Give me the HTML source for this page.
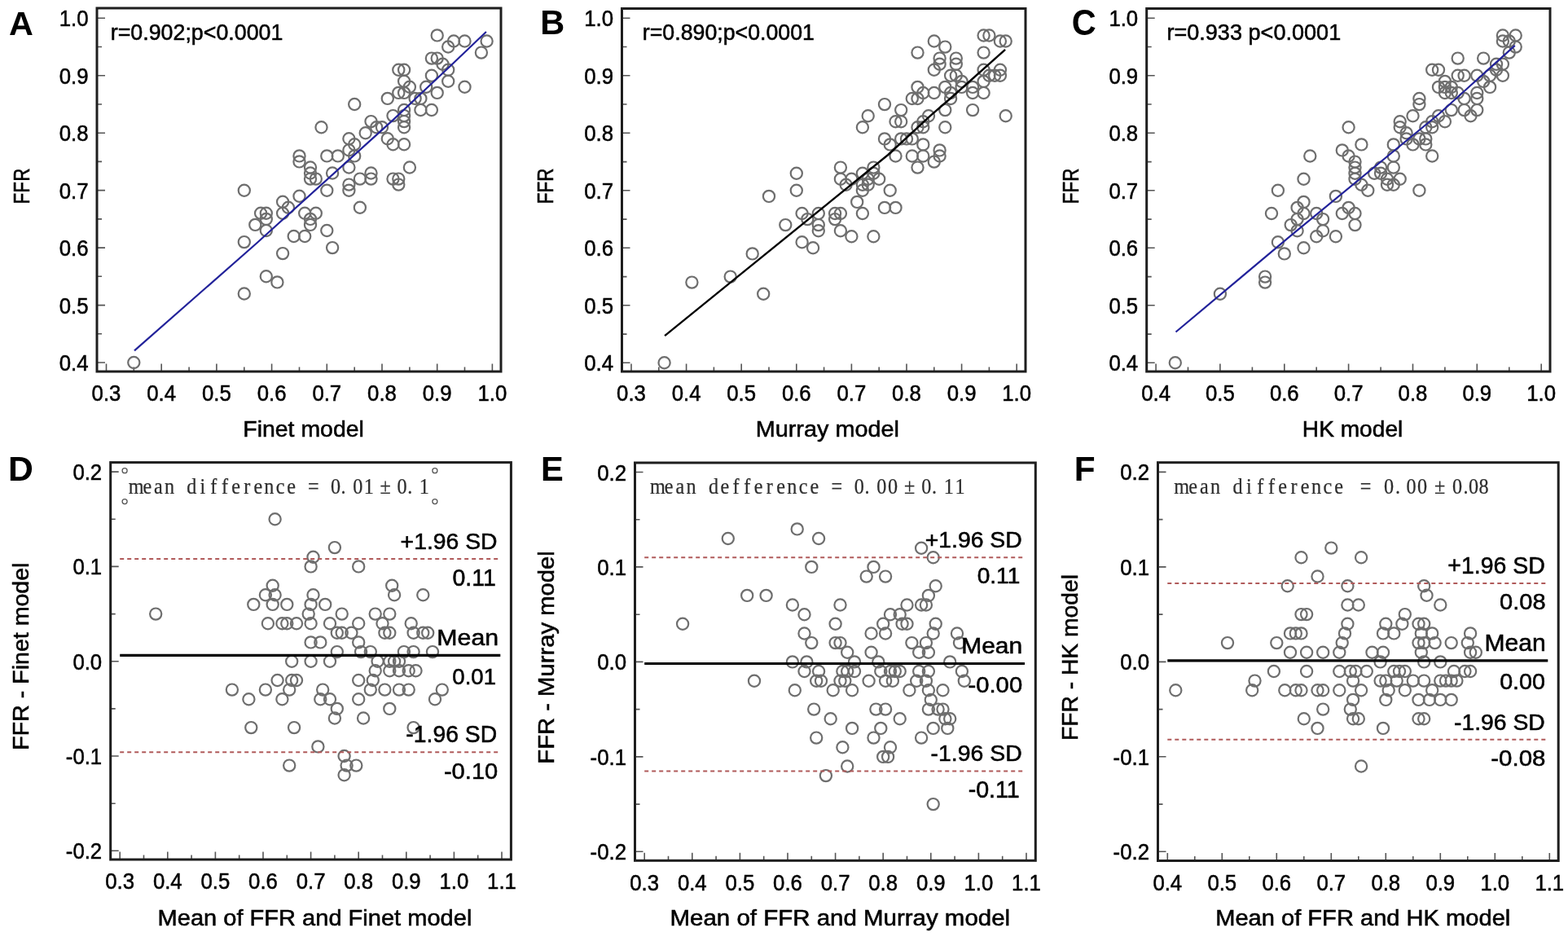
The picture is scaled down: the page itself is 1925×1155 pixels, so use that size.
<!DOCTYPE html>
<html><head><meta charset="utf-8"><title>Figure</title><style>
html,body{margin:0;padding:0;background:#fff;}
svg{display:block;filter:blur(0.45px)}
</style></head><body>
<svg width="1925" height="1155" viewBox="0 0 1925 1155">
<rect width="1925" height="1155" fill="#fff"/>
<path d="M130.5 456.0V446.5M164.3 456.0V450.5M198.2 456.0V446.5M232.1 456.0V450.5M265.9 456.0V446.5M299.8 456.0V450.5M333.6 456.0V446.5M367.5 456.0V450.5M401.3 456.0V446.5M435.2 456.0V450.5M469.0 456.0V446.5M502.9 456.0V450.5M536.7 456.0V446.5M570.5 456.0V450.5M604.4 456.0V446.5M119.0 445.0H129.0M119.0 409.8H125.0M119.0 374.6H129.0M119.0 339.3H125.0M119.0 304.1H129.0M119.0 268.9H125.0M119.0 233.6H129.0M119.0 198.4H125.0M119.0 163.2H129.0M119.0 128.0H125.0M119.0 92.8H129.0M119.0 57.5H125.0M119.0 22.3H129.0M775.0 456.0V446.5M808.8 456.0V450.5M842.6 456.0V446.5M876.4 456.0V450.5M910.2 456.0V446.5M944.0 456.0V450.5M977.8 456.0V446.5M1011.6 456.0V450.5M1045.4 456.0V446.5M1079.2 456.0V450.5M1113.0 456.0V446.5M1146.8 456.0V450.5M1180.6 456.0V446.5M1214.4 456.0V450.5M1248.2 456.0V446.5M763.5 445.3H773.5M763.5 410.1H769.5M763.5 374.8H773.5M763.5 339.6H769.5M763.5 304.3H773.5M763.5 269.1H769.5M763.5 233.8H773.5M763.5 198.6H769.5M763.5 163.3H773.5M763.5 128.0H769.5M763.5 92.8H773.5M763.5 57.5H769.5M763.5 22.3H773.5M1419.1 456.0V446.5M1458.5 456.0V450.5M1497.9 456.0V446.5M1537.4 456.0V450.5M1576.8 456.0V446.5M1616.2 456.0V450.5M1655.6 456.0V446.5M1695.1 456.0V450.5M1734.5 456.0V446.5M1773.9 456.0V450.5M1813.3 456.0V446.5M1852.8 456.0V450.5M1892.2 456.0V446.5M1407.7 445.3H1417.7M1407.7 410.1H1413.7M1407.7 374.8H1417.7M1407.7 339.6H1413.7M1407.7 304.3H1417.7M1407.7 269.1H1413.7M1407.7 233.8H1417.7M1407.7 198.6H1413.7M1407.7 163.3H1417.7M1407.7 128.0H1413.7M1407.7 92.8H1417.7M1407.7 57.5H1413.7M1407.7 22.3H1417.7M147.2 1055.0V1045.5M176.5 1055.0V1049.5M205.8 1055.0V1045.5M235.1 1055.0V1049.5M264.4 1055.0V1045.5M293.7 1055.0V1049.5M323.0 1055.0V1045.5M352.3 1055.0V1049.5M381.6 1055.0V1045.5M410.9 1055.0V1049.5M440.2 1055.0V1045.5M469.5 1055.0V1049.5M498.8 1055.0V1045.5M528.1 1055.0V1049.5M557.4 1055.0V1045.5M586.7 1055.0V1049.5M616.0 1055.0V1045.5M135.7 1044.3H145.7M135.7 986.2H141.7M135.7 928.0H145.7M135.7 869.9H141.7M135.7 811.7H145.7M135.7 753.6H141.7M135.7 695.4H145.7M135.7 637.2H141.7M135.7 579.1H145.7M791.2 1056.3V1046.8M820.5 1056.3V1050.8M849.8 1056.3V1046.8M879.1 1056.3V1050.8M908.4 1056.3V1046.8M937.7 1056.3V1050.8M967.0 1056.3V1046.8M996.3 1056.3V1050.8M1025.6 1056.3V1046.8M1054.9 1056.3V1050.8M1084.2 1056.3V1046.8M1113.5 1056.3V1050.8M1142.8 1056.3V1046.8M1172.1 1056.3V1050.8M1201.4 1056.3V1046.8M1230.7 1056.3V1050.8M1260.0 1056.3V1046.8M779.5 1045.3H789.5M779.5 987.1H785.5M779.5 928.9H789.5M779.5 870.6H785.5M779.5 812.4H789.5M779.5 754.2H785.5M779.5 695.9H789.5M779.5 637.7H785.5M779.5 579.5H789.5M1433.3 1056.5V1047.0M1466.8 1056.5V1051.0M1500.3 1056.5V1047.0M1533.8 1056.5V1051.0M1567.3 1056.5V1047.0M1600.8 1056.5V1051.0M1634.3 1056.5V1047.0M1667.8 1056.5V1051.0M1701.3 1056.5V1047.0M1734.8 1056.5V1051.0M1768.3 1056.5V1047.0M1801.8 1056.5V1051.0M1835.3 1056.5V1047.0M1868.8 1056.5V1051.0M1902.3 1056.5V1047.0M1421.5 1045.3H1431.5M1421.5 987.1H1427.5M1421.5 928.8H1431.5M1421.5 870.6H1427.5M1421.5 812.4H1431.5M1421.5 754.1H1427.5M1421.5 695.9H1431.5M1421.5 637.6H1427.5M1421.5 579.4H1431.5" stroke="#555" stroke-width="1.6" fill="none"/>
<rect x="119" y="10" width="496.0" height="446.0" fill="none" stroke="#1e1e1e" stroke-width="3.0"/>
<rect x="763.5" y="10.5" width="495.5" height="445.5" fill="none" stroke="#1e1e1e" stroke-width="3.0"/>
<rect x="1407.7" y="10.5" width="495.3" height="445.5" fill="none" stroke="#1e1e1e" stroke-width="3.0"/>
<rect x="135.7" y="567.6" width="491.7" height="487.4" fill="none" stroke="#1e1e1e" stroke-width="3.0"/>
<rect x="779.5" y="568" width="491.8" height="488.3" fill="none" stroke="#1e1e1e" stroke-width="3.0"/>
<rect x="1421.5" y="567.7" width="491.7" height="488.8" fill="none" stroke="#1e1e1e" stroke-width="3.0"/>
<g style="font-family:'Liberation Sans',Arial,sans-serif;font-size:28.0px" fill="#000" stroke="#000" stroke-width="0.55"><text x="130.5" y="492.3" text-anchor="middle" textLength="35.81" lengthAdjust="spacingAndGlyphs">0.3</text><text x="198.2" y="492.3" text-anchor="middle" textLength="35.81" lengthAdjust="spacingAndGlyphs">0.4</text><text x="265.9" y="492.3" text-anchor="middle" textLength="35.81" lengthAdjust="spacingAndGlyphs">0.5</text><text x="333.6" y="492.3" text-anchor="middle" textLength="35.81" lengthAdjust="spacingAndGlyphs">0.6</text><text x="401.3" y="492.3" text-anchor="middle" textLength="35.81" lengthAdjust="spacingAndGlyphs">0.7</text><text x="469.0" y="492.3" text-anchor="middle" textLength="35.81" lengthAdjust="spacingAndGlyphs">0.8</text><text x="536.7" y="492.3" text-anchor="middle" textLength="35.81" lengthAdjust="spacingAndGlyphs">0.9</text><text x="604.4" y="492.3" text-anchor="middle" textLength="35.81" lengthAdjust="spacingAndGlyphs">1.0</text><text x="108.5" y="455.0" text-anchor="end" textLength="35.81" lengthAdjust="spacingAndGlyphs">0.4</text><text x="108.5" y="384.6" text-anchor="end" textLength="35.81" lengthAdjust="spacingAndGlyphs">0.5</text><text x="108.5" y="314.1" text-anchor="end" textLength="35.81" lengthAdjust="spacingAndGlyphs">0.6</text><text x="108.5" y="243.6" text-anchor="end" textLength="35.81" lengthAdjust="spacingAndGlyphs">0.7</text><text x="108.5" y="173.2" text-anchor="end" textLength="35.81" lengthAdjust="spacingAndGlyphs">0.8</text><text x="108.5" y="102.8" text-anchor="end" textLength="35.81" lengthAdjust="spacingAndGlyphs">0.9</text><text x="108.5" y="32.3" text-anchor="end" textLength="35.81" lengthAdjust="spacingAndGlyphs">1.0</text><text x="775.0" y="492.3" text-anchor="middle" textLength="35.81" lengthAdjust="spacingAndGlyphs">0.3</text><text x="842.6" y="492.3" text-anchor="middle" textLength="35.81" lengthAdjust="spacingAndGlyphs">0.4</text><text x="910.2" y="492.3" text-anchor="middle" textLength="35.81" lengthAdjust="spacingAndGlyphs">0.5</text><text x="977.8" y="492.3" text-anchor="middle" textLength="35.81" lengthAdjust="spacingAndGlyphs">0.6</text><text x="1045.4" y="492.3" text-anchor="middle" textLength="35.81" lengthAdjust="spacingAndGlyphs">0.7</text><text x="1113.0" y="492.3" text-anchor="middle" textLength="35.81" lengthAdjust="spacingAndGlyphs">0.8</text><text x="1180.6" y="492.3" text-anchor="middle" textLength="35.81" lengthAdjust="spacingAndGlyphs">0.9</text><text x="1248.2" y="492.3" text-anchor="middle" textLength="35.81" lengthAdjust="spacingAndGlyphs">1.0</text><text x="753.0" y="455.3" text-anchor="end" textLength="35.81" lengthAdjust="spacingAndGlyphs">0.4</text><text x="753.0" y="384.8" text-anchor="end" textLength="35.81" lengthAdjust="spacingAndGlyphs">0.5</text><text x="753.0" y="314.3" text-anchor="end" textLength="35.81" lengthAdjust="spacingAndGlyphs">0.6</text><text x="753.0" y="243.8" text-anchor="end" textLength="35.81" lengthAdjust="spacingAndGlyphs">0.7</text><text x="753.0" y="173.3" text-anchor="end" textLength="35.81" lengthAdjust="spacingAndGlyphs">0.8</text><text x="753.0" y="102.8" text-anchor="end" textLength="35.81" lengthAdjust="spacingAndGlyphs">0.9</text><text x="753.0" y="32.3" text-anchor="end" textLength="35.81" lengthAdjust="spacingAndGlyphs">1.0</text><text x="1419.1" y="492.3" text-anchor="middle" textLength="35.81" lengthAdjust="spacingAndGlyphs">0.4</text><text x="1497.9" y="492.3" text-anchor="middle" textLength="35.81" lengthAdjust="spacingAndGlyphs">0.5</text><text x="1576.8" y="492.3" text-anchor="middle" textLength="35.81" lengthAdjust="spacingAndGlyphs">0.6</text><text x="1655.6" y="492.3" text-anchor="middle" textLength="35.81" lengthAdjust="spacingAndGlyphs">0.7</text><text x="1734.5" y="492.3" text-anchor="middle" textLength="35.81" lengthAdjust="spacingAndGlyphs">0.8</text><text x="1813.3" y="492.3" text-anchor="middle" textLength="35.81" lengthAdjust="spacingAndGlyphs">0.9</text><text x="1892.2" y="492.3" text-anchor="middle" textLength="35.81" lengthAdjust="spacingAndGlyphs">1.0</text><text x="1397.2" y="455.3" text-anchor="end" textLength="35.81" lengthAdjust="spacingAndGlyphs">0.4</text><text x="1397.2" y="384.8" text-anchor="end" textLength="35.81" lengthAdjust="spacingAndGlyphs">0.5</text><text x="1397.2" y="314.3" text-anchor="end" textLength="35.81" lengthAdjust="spacingAndGlyphs">0.6</text><text x="1397.2" y="243.8" text-anchor="end" textLength="35.81" lengthAdjust="spacingAndGlyphs">0.7</text><text x="1397.2" y="173.3" text-anchor="end" textLength="35.81" lengthAdjust="spacingAndGlyphs">0.8</text><text x="1397.2" y="102.8" text-anchor="end" textLength="35.81" lengthAdjust="spacingAndGlyphs">0.9</text><text x="1397.2" y="32.3" text-anchor="end" textLength="35.81" lengthAdjust="spacingAndGlyphs">1.0</text><text x="147.2" y="1091.3" text-anchor="middle" textLength="35.81" lengthAdjust="spacingAndGlyphs">0.3</text><text x="205.8" y="1091.3" text-anchor="middle" textLength="35.81" lengthAdjust="spacingAndGlyphs">0.4</text><text x="264.4" y="1091.3" text-anchor="middle" textLength="35.81" lengthAdjust="spacingAndGlyphs">0.5</text><text x="323.0" y="1091.3" text-anchor="middle" textLength="35.81" lengthAdjust="spacingAndGlyphs">0.6</text><text x="381.6" y="1091.3" text-anchor="middle" textLength="35.81" lengthAdjust="spacingAndGlyphs">0.7</text><text x="440.2" y="1091.3" text-anchor="middle" textLength="35.81" lengthAdjust="spacingAndGlyphs">0.8</text><text x="498.8" y="1091.3" text-anchor="middle" textLength="35.81" lengthAdjust="spacingAndGlyphs">0.9</text><text x="557.4" y="1091.3" text-anchor="middle" textLength="35.81" lengthAdjust="spacingAndGlyphs">1.0</text><text x="616.0" y="1091.3" text-anchor="middle" textLength="35.81" lengthAdjust="spacingAndGlyphs">1.1</text><text x="125.2" y="1054.3" text-anchor="end" textLength="44.38" lengthAdjust="spacingAndGlyphs">-0.2</text><text x="125.2" y="938.0" text-anchor="end" textLength="44.38" lengthAdjust="spacingAndGlyphs">-0.1</text><text x="125.2" y="821.7" text-anchor="end" textLength="35.81" lengthAdjust="spacingAndGlyphs">0.0</text><text x="125.2" y="705.4" text-anchor="end" textLength="35.81" lengthAdjust="spacingAndGlyphs">0.1</text><text x="125.2" y="589.1" text-anchor="end" textLength="35.81" lengthAdjust="spacingAndGlyphs">0.2</text><text x="791.2" y="1092.6" text-anchor="middle" textLength="35.81" lengthAdjust="spacingAndGlyphs">0.3</text><text x="849.8" y="1092.6" text-anchor="middle" textLength="35.81" lengthAdjust="spacingAndGlyphs">0.4</text><text x="908.4" y="1092.6" text-anchor="middle" textLength="35.81" lengthAdjust="spacingAndGlyphs">0.5</text><text x="967.0" y="1092.6" text-anchor="middle" textLength="35.81" lengthAdjust="spacingAndGlyphs">0.6</text><text x="1025.6" y="1092.6" text-anchor="middle" textLength="35.81" lengthAdjust="spacingAndGlyphs">0.7</text><text x="1084.2" y="1092.6" text-anchor="middle" textLength="35.81" lengthAdjust="spacingAndGlyphs">0.8</text><text x="1142.8" y="1092.6" text-anchor="middle" textLength="35.81" lengthAdjust="spacingAndGlyphs">0.9</text><text x="1201.4" y="1092.6" text-anchor="middle" textLength="35.81" lengthAdjust="spacingAndGlyphs">1.0</text><text x="1260.0" y="1092.6" text-anchor="middle" textLength="35.81" lengthAdjust="spacingAndGlyphs">1.1</text><text x="769.0" y="1055.3" text-anchor="end" textLength="44.38" lengthAdjust="spacingAndGlyphs">-0.2</text><text x="769.0" y="938.9" text-anchor="end" textLength="44.38" lengthAdjust="spacingAndGlyphs">-0.1</text><text x="769.0" y="822.4" text-anchor="end" textLength="35.81" lengthAdjust="spacingAndGlyphs">0.0</text><text x="769.0" y="705.9" text-anchor="end" textLength="35.81" lengthAdjust="spacingAndGlyphs">0.1</text><text x="769.0" y="589.5" text-anchor="end" textLength="35.81" lengthAdjust="spacingAndGlyphs">0.2</text><text x="1433.3" y="1092.8" text-anchor="middle" textLength="35.81" lengthAdjust="spacingAndGlyphs">0.4</text><text x="1500.3" y="1092.8" text-anchor="middle" textLength="35.81" lengthAdjust="spacingAndGlyphs">0.5</text><text x="1567.3" y="1092.8" text-anchor="middle" textLength="35.81" lengthAdjust="spacingAndGlyphs">0.6</text><text x="1634.3" y="1092.8" text-anchor="middle" textLength="35.81" lengthAdjust="spacingAndGlyphs">0.7</text><text x="1701.3" y="1092.8" text-anchor="middle" textLength="35.81" lengthAdjust="spacingAndGlyphs">0.8</text><text x="1768.3" y="1092.8" text-anchor="middle" textLength="35.81" lengthAdjust="spacingAndGlyphs">0.9</text><text x="1835.3" y="1092.8" text-anchor="middle" textLength="35.81" lengthAdjust="spacingAndGlyphs">1.0</text><text x="1902.3" y="1092.8" text-anchor="middle" textLength="35.81" lengthAdjust="spacingAndGlyphs">1.1</text><text x="1411.0" y="1055.3" text-anchor="end" textLength="44.38" lengthAdjust="spacingAndGlyphs">-0.2</text><text x="1411.0" y="938.8" text-anchor="end" textLength="44.38" lengthAdjust="spacingAndGlyphs">-0.1</text><text x="1411.0" y="822.4" text-anchor="end" textLength="35.81" lengthAdjust="spacingAndGlyphs">0.0</text><text x="1411.0" y="705.9" text-anchor="end" textLength="35.81" lengthAdjust="spacingAndGlyphs">0.1</text><text x="1411.0" y="589.4" text-anchor="end" textLength="35.81" lengthAdjust="spacingAndGlyphs">0.2</text></g>
<g fill="none" stroke="#6e6e6e" stroke-width="2.2"><circle cx="536.7" cy="43.4" r="7.1"/><circle cx="557.0" cy="50.5" r="7.1"/><circle cx="570.5" cy="50.5" r="7.1"/><circle cx="597.6" cy="50.5" r="7.1"/><circle cx="550.2" cy="57.5" r="7.1"/><circle cx="590.9" cy="64.6" r="7.1"/><circle cx="529.9" cy="71.6" r="7.1"/><circle cx="536.7" cy="71.6" r="7.1"/><circle cx="543.5" cy="78.7" r="7.1"/><circle cx="550.2" cy="85.7" r="7.1"/><circle cx="489.3" cy="85.7" r="7.1"/><circle cx="496.1" cy="85.7" r="7.1"/><circle cx="529.9" cy="92.8" r="7.1"/><circle cx="496.1" cy="99.8" r="7.1"/><circle cx="550.2" cy="99.8" r="7.1"/><circle cx="502.9" cy="106.8" r="7.1"/><circle cx="523.2" cy="106.8" r="7.1"/><circle cx="570.5" cy="106.8" r="7.1"/><circle cx="489.3" cy="113.9" r="7.1"/><circle cx="496.1" cy="113.9" r="7.1"/><circle cx="536.7" cy="113.9" r="7.1"/><circle cx="475.8" cy="120.9" r="7.1"/><circle cx="509.6" cy="120.9" r="7.1"/><circle cx="516.4" cy="120.9" r="7.1"/><circle cx="435.2" cy="128.0" r="7.1"/><circle cx="496.1" cy="135.0" r="7.1"/><circle cx="516.4" cy="135.0" r="7.1"/><circle cx="529.9" cy="135.0" r="7.1"/><circle cx="482.5" cy="142.1" r="7.1"/><circle cx="496.1" cy="149.1" r="7.1"/><circle cx="455.5" cy="149.1" r="7.1"/><circle cx="394.5" cy="156.2" r="7.1"/><circle cx="469.0" cy="156.2" r="7.1"/><circle cx="496.1" cy="156.2" r="7.1"/><circle cx="462.2" cy="156.2" r="7.1"/><circle cx="448.7" cy="163.2" r="7.1"/><circle cx="428.4" cy="170.2" r="7.1"/><circle cx="435.2" cy="177.3" r="7.1"/><circle cx="428.4" cy="184.3" r="7.1"/><circle cx="401.3" cy="191.4" r="7.1"/><circle cx="414.8" cy="191.4" r="7.1"/><circle cx="435.2" cy="191.4" r="7.1"/><circle cx="475.8" cy="170.2" r="7.1"/><circle cx="482.5" cy="177.3" r="7.1"/><circle cx="496.1" cy="177.3" r="7.1"/><circle cx="381.0" cy="205.5" r="7.1"/><circle cx="381.0" cy="212.5" r="7.1"/><circle cx="387.8" cy="219.6" r="7.1"/><circle cx="381.0" cy="219.6" r="7.1"/><circle cx="408.1" cy="212.5" r="7.1"/><circle cx="428.4" cy="205.5" r="7.1"/><circle cx="502.9" cy="205.5" r="7.1"/><circle cx="455.5" cy="212.5" r="7.1"/><circle cx="455.5" cy="219.6" r="7.1"/><circle cx="441.9" cy="219.6" r="7.1"/><circle cx="428.4" cy="226.6" r="7.1"/><circle cx="428.4" cy="233.7" r="7.1"/><circle cx="401.3" cy="233.7" r="7.1"/><circle cx="482.5" cy="219.6" r="7.1"/><circle cx="489.3" cy="219.6" r="7.1"/><circle cx="489.3" cy="226.6" r="7.1"/><circle cx="441.9" cy="254.8" r="7.1"/><circle cx="387.8" cy="261.8" r="7.1"/><circle cx="374.2" cy="261.8" r="7.1"/><circle cx="381.0" cy="275.9" r="7.1"/><circle cx="401.3" cy="283.0" r="7.1"/><circle cx="299.8" cy="233.7" r="7.1"/><circle cx="367.5" cy="191.4" r="7.1"/><circle cx="367.5" cy="198.4" r="7.1"/><circle cx="367.5" cy="240.7" r="7.1"/><circle cx="347.1" cy="247.7" r="7.1"/><circle cx="353.9" cy="254.8" r="7.1"/><circle cx="347.1" cy="261.8" r="7.1"/><circle cx="320.1" cy="261.8" r="7.1"/><circle cx="326.8" cy="261.8" r="7.1"/><circle cx="326.8" cy="268.9" r="7.1"/><circle cx="313.3" cy="275.9" r="7.1"/><circle cx="326.8" cy="283.0" r="7.1"/><circle cx="381.0" cy="268.9" r="7.1"/><circle cx="299.8" cy="297.1" r="7.1"/><circle cx="360.7" cy="290.0" r="7.1"/><circle cx="374.2" cy="290.0" r="7.1"/><circle cx="408.1" cy="304.1" r="7.1"/><circle cx="347.1" cy="311.1" r="7.1"/><circle cx="326.8" cy="339.3" r="7.1"/><circle cx="340.4" cy="346.4" r="7.1"/><circle cx="299.8" cy="360.5" r="7.1"/><circle cx="164.3" cy="445.0" r="7.1"/><circle cx="496.1" cy="142.1" r="7.1"/></g>
<g fill="none" stroke="#6e6e6e" stroke-width="2.2"><circle cx="1207.6" cy="43.5" r="7.1"/><circle cx="1214.4" cy="43.5" r="7.1"/><circle cx="1227.9" cy="50.5" r="7.1"/><circle cx="1234.7" cy="50.5" r="7.1"/><circle cx="1146.8" cy="50.5" r="7.1"/><circle cx="1160.3" cy="57.6" r="7.1"/><circle cx="1126.5" cy="64.6" r="7.1"/><circle cx="1207.6" cy="64.6" r="7.1"/><circle cx="1153.6" cy="71.6" r="7.1"/><circle cx="1153.6" cy="78.7" r="7.1"/><circle cx="1173.8" cy="71.6" r="7.1"/><circle cx="1173.8" cy="78.7" r="7.1"/><circle cx="1146.8" cy="85.8" r="7.1"/><circle cx="1207.6" cy="85.8" r="7.1"/><circle cx="1227.9" cy="85.8" r="7.1"/><circle cx="1227.9" cy="92.8" r="7.1"/><circle cx="1167.1" cy="92.8" r="7.1"/><circle cx="1173.8" cy="92.8" r="7.1"/><circle cx="1214.4" cy="92.8" r="7.1"/><circle cx="1221.2" cy="92.8" r="7.1"/><circle cx="1180.6" cy="99.9" r="7.1"/><circle cx="1207.6" cy="99.9" r="7.1"/><circle cx="1126.5" cy="106.9" r="7.1"/><circle cx="1160.3" cy="106.9" r="7.1"/><circle cx="1167.1" cy="114.0" r="7.1"/><circle cx="1180.6" cy="106.9" r="7.1"/><circle cx="1133.3" cy="114.0" r="7.1"/><circle cx="1146.8" cy="114.0" r="7.1"/><circle cx="1194.1" cy="114.0" r="7.1"/><circle cx="1207.6" cy="114.0" r="7.1"/><circle cx="1119.8" cy="121.0" r="7.1"/><circle cx="1126.5" cy="121.0" r="7.1"/><circle cx="1167.1" cy="121.0" r="7.1"/><circle cx="1086.0" cy="128.1" r="7.1"/><circle cx="1106.2" cy="135.1" r="7.1"/><circle cx="1160.3" cy="135.1" r="7.1"/><circle cx="1194.1" cy="135.1" r="7.1"/><circle cx="1234.7" cy="142.2" r="7.1"/><circle cx="1065.7" cy="142.2" r="7.1"/><circle cx="1140.0" cy="142.2" r="7.1"/><circle cx="1099.5" cy="149.2" r="7.1"/><circle cx="1106.2" cy="149.2" r="7.1"/><circle cx="1133.3" cy="149.2" r="7.1"/><circle cx="1058.9" cy="156.2" r="7.1"/><circle cx="1126.5" cy="156.2" r="7.1"/><circle cx="1133.3" cy="156.2" r="7.1"/><circle cx="1160.3" cy="156.2" r="7.1"/><circle cx="1086.0" cy="170.4" r="7.1"/><circle cx="1113.0" cy="170.4" r="7.1"/><circle cx="1092.7" cy="177.4" r="7.1"/><circle cx="1133.3" cy="177.4" r="7.1"/><circle cx="1106.2" cy="170.4" r="7.1"/><circle cx="1099.5" cy="191.5" r="7.1"/><circle cx="1119.8" cy="191.5" r="7.1"/><circle cx="1133.3" cy="191.5" r="7.1"/><circle cx="1126.5" cy="205.6" r="7.1"/><circle cx="1146.8" cy="198.6" r="7.1"/><circle cx="1031.9" cy="205.6" r="7.1"/><circle cx="1072.4" cy="205.6" r="7.1"/><circle cx="977.8" cy="212.7" r="7.1"/><circle cx="977.8" cy="233.8" r="7.1"/><circle cx="944.0" cy="240.9" r="7.1"/><circle cx="1031.9" cy="219.7" r="7.1"/><circle cx="1038.6" cy="226.8" r="7.1"/><circle cx="1045.4" cy="219.7" r="7.1"/><circle cx="1058.9" cy="212.7" r="7.1"/><circle cx="1065.7" cy="219.7" r="7.1"/><circle cx="1065.7" cy="226.8" r="7.1"/><circle cx="1058.9" cy="233.8" r="7.1"/><circle cx="1079.2" cy="219.7" r="7.1"/><circle cx="1092.7" cy="233.8" r="7.1"/><circle cx="1052.2" cy="247.9" r="7.1"/><circle cx="1086.0" cy="254.9" r="7.1"/><circle cx="1099.5" cy="254.9" r="7.1"/><circle cx="1058.9" cy="262.0" r="7.1"/><circle cx="984.6" cy="262.0" r="7.1"/><circle cx="991.3" cy="269.1" r="7.1"/><circle cx="1004.8" cy="262.0" r="7.1"/><circle cx="1025.1" cy="262.0" r="7.1"/><circle cx="1031.9" cy="262.0" r="7.1"/><circle cx="1025.1" cy="269.1" r="7.1"/><circle cx="964.3" cy="276.1" r="7.1"/><circle cx="1004.8" cy="276.1" r="7.1"/><circle cx="1004.8" cy="283.2" r="7.1"/><circle cx="1031.9" cy="283.2" r="7.1"/><circle cx="849.4" cy="346.6" r="7.1"/><circle cx="896.7" cy="339.6" r="7.1"/><circle cx="923.7" cy="311.4" r="7.1"/><circle cx="937.2" cy="360.7" r="7.1"/><circle cx="984.6" cy="297.2" r="7.1"/><circle cx="998.1" cy="304.3" r="7.1"/><circle cx="815.6" cy="445.3" r="7.1"/><circle cx="1153.6" cy="184.4" r="7.1"/><circle cx="1153.6" cy="191.5" r="7.1"/><circle cx="1045.4" cy="290.2" r="7.1"/><circle cx="1072.4" cy="290.2" r="7.1"/><circle cx="1058.9" cy="226.8" r="7.1"/><circle cx="1072.4" cy="212.7" r="7.1"/><circle cx="1119.8" cy="170.4" r="7.1"/><circle cx="1194.1" cy="106.9" r="7.1"/></g>
<g fill="none" stroke="#6e6e6e" stroke-width="2.2"><circle cx="1844.9" cy="43.5" r="7.1"/><circle cx="1860.7" cy="43.5" r="7.1"/><circle cx="1844.9" cy="50.5" r="7.1"/><circle cx="1852.8" cy="50.5" r="7.1"/><circle cx="1860.7" cy="57.6" r="7.1"/><circle cx="1852.8" cy="64.6" r="7.1"/><circle cx="1789.7" cy="71.6" r="7.1"/><circle cx="1821.2" cy="71.6" r="7.1"/><circle cx="1758.2" cy="85.8" r="7.1"/><circle cx="1766.0" cy="85.8" r="7.1"/><circle cx="1837.0" cy="78.7" r="7.1"/><circle cx="1844.9" cy="78.7" r="7.1"/><circle cx="1789.7" cy="92.8" r="7.1"/><circle cx="1797.6" cy="92.8" r="7.1"/><circle cx="1813.3" cy="92.8" r="7.1"/><circle cx="1829.1" cy="92.8" r="7.1"/><circle cx="1844.9" cy="92.8" r="7.1"/><circle cx="1773.9" cy="99.9" r="7.1"/><circle cx="1766.0" cy="106.9" r="7.1"/><circle cx="1773.9" cy="114.0" r="7.1"/><circle cx="1781.8" cy="106.9" r="7.1"/><circle cx="1781.8" cy="114.0" r="7.1"/><circle cx="1789.7" cy="114.0" r="7.1"/><circle cx="1813.3" cy="114.0" r="7.1"/><circle cx="1813.3" cy="121.0" r="7.1"/><circle cx="1829.1" cy="106.9" r="7.1"/><circle cx="1797.6" cy="121.0" r="7.1"/><circle cx="1742.4" cy="121.0" r="7.1"/><circle cx="1742.4" cy="128.1" r="7.1"/><circle cx="1734.5" cy="142.2" r="7.1"/><circle cx="1781.8" cy="135.1" r="7.1"/><circle cx="1797.6" cy="135.1" r="7.1"/><circle cx="1805.5" cy="142.2" r="7.1"/><circle cx="1813.3" cy="135.1" r="7.1"/><circle cx="1766.0" cy="142.2" r="7.1"/><circle cx="1773.9" cy="149.2" r="7.1"/><circle cx="1758.2" cy="156.2" r="7.1"/><circle cx="1718.7" cy="149.2" r="7.1"/><circle cx="1718.7" cy="156.2" r="7.1"/><circle cx="1726.6" cy="163.3" r="7.1"/><circle cx="1726.6" cy="170.4" r="7.1"/><circle cx="1750.3" cy="156.2" r="7.1"/><circle cx="1750.3" cy="170.4" r="7.1"/><circle cx="1750.3" cy="177.4" r="7.1"/><circle cx="1655.6" cy="156.2" r="7.1"/><circle cx="1671.4" cy="177.4" r="7.1"/><circle cx="1710.8" cy="177.4" r="7.1"/><circle cx="1608.3" cy="191.5" r="7.1"/><circle cx="1647.8" cy="184.4" r="7.1"/><circle cx="1655.6" cy="191.5" r="7.1"/><circle cx="1663.5" cy="198.6" r="7.1"/><circle cx="1663.5" cy="205.6" r="7.1"/><circle cx="1663.5" cy="212.7" r="7.1"/><circle cx="1663.5" cy="219.7" r="7.1"/><circle cx="1671.4" cy="226.8" r="7.1"/><circle cx="1679.3" cy="233.8" r="7.1"/><circle cx="1600.5" cy="219.7" r="7.1"/><circle cx="1568.9" cy="233.8" r="7.1"/><circle cx="1639.9" cy="240.9" r="7.1"/><circle cx="1710.8" cy="191.5" r="7.1"/><circle cx="1695.1" cy="205.6" r="7.1"/><circle cx="1710.8" cy="205.6" r="7.1"/><circle cx="1687.2" cy="212.7" r="7.1"/><circle cx="1695.1" cy="212.7" r="7.1"/><circle cx="1703.0" cy="219.7" r="7.1"/><circle cx="1703.0" cy="226.8" r="7.1"/><circle cx="1710.8" cy="226.8" r="7.1"/><circle cx="1718.7" cy="219.7" r="7.1"/><circle cx="1742.4" cy="233.8" r="7.1"/><circle cx="1734.5" cy="177.4" r="7.1"/><circle cx="1758.2" cy="191.5" r="7.1"/><circle cx="1561.0" cy="262.0" r="7.1"/><circle cx="1592.6" cy="254.9" r="7.1"/><circle cx="1600.5" cy="247.9" r="7.1"/><circle cx="1600.5" cy="262.0" r="7.1"/><circle cx="1616.2" cy="262.0" r="7.1"/><circle cx="1624.1" cy="269.1" r="7.1"/><circle cx="1624.1" cy="283.2" r="7.1"/><circle cx="1592.6" cy="269.1" r="7.1"/><circle cx="1584.7" cy="276.1" r="7.1"/><circle cx="1592.6" cy="283.2" r="7.1"/><circle cx="1647.8" cy="262.0" r="7.1"/><circle cx="1655.6" cy="254.9" r="7.1"/><circle cx="1663.5" cy="262.0" r="7.1"/><circle cx="1663.5" cy="276.1" r="7.1"/><circle cx="1616.2" cy="290.2" r="7.1"/><circle cx="1639.9" cy="290.2" r="7.1"/><circle cx="1568.9" cy="297.2" r="7.1"/><circle cx="1576.8" cy="311.4" r="7.1"/><circle cx="1600.5" cy="304.3" r="7.1"/><circle cx="1553.1" cy="339.6" r="7.1"/><circle cx="1553.1" cy="346.6" r="7.1"/><circle cx="1497.9" cy="360.7" r="7.1"/><circle cx="1442.8" cy="445.3" r="7.1"/><circle cx="1773.9" cy="106.9" r="7.1"/><circle cx="1758.2" cy="149.2" r="7.1"/><circle cx="1742.4" cy="170.4" r="7.1"/><circle cx="1821.2" cy="99.9" r="7.1"/><circle cx="1837.0" cy="85.8" r="7.1"/></g>
<g fill="none" stroke="#6e6e6e" stroke-width="2.2"><circle cx="337.6" cy="637.2" r="7.1"/><circle cx="191.2" cy="753.6" r="7.1"/><circle cx="410.9" cy="672.1" r="7.1"/><circle cx="384.5" cy="683.8" r="7.1"/><circle cx="381.6" cy="695.4" r="7.1"/><circle cx="334.7" cy="718.7" r="7.1"/><circle cx="325.9" cy="730.3" r="7.1"/><circle cx="337.6" cy="730.3" r="7.1"/><circle cx="311.3" cy="741.9" r="7.1"/><circle cx="334.7" cy="741.9" r="7.1"/><circle cx="352.3" cy="741.9" r="7.1"/><circle cx="384.5" cy="730.3" r="7.1"/><circle cx="381.6" cy="741.9" r="7.1"/><circle cx="399.2" cy="741.9" r="7.1"/><circle cx="378.7" cy="753.6" r="7.1"/><circle cx="328.9" cy="765.2" r="7.1"/><circle cx="346.4" cy="765.2" r="7.1"/><circle cx="352.3" cy="765.2" r="7.1"/><circle cx="364.0" cy="765.2" r="7.1"/><circle cx="381.6" cy="765.2" r="7.1"/><circle cx="405.0" cy="765.2" r="7.1"/><circle cx="440.2" cy="695.4" r="7.1"/><circle cx="481.2" cy="718.7" r="7.1"/><circle cx="484.1" cy="730.3" r="7.1"/><circle cx="519.3" cy="730.3" r="7.1"/><circle cx="419.7" cy="753.6" r="7.1"/><circle cx="460.7" cy="753.6" r="7.1"/><circle cx="478.3" cy="753.6" r="7.1"/><circle cx="440.2" cy="765.2" r="7.1"/><circle cx="469.5" cy="765.2" r="7.1"/><circle cx="504.7" cy="765.2" r="7.1"/><circle cx="413.8" cy="776.8" r="7.1"/><circle cx="419.7" cy="776.8" r="7.1"/><circle cx="431.4" cy="776.8" r="7.1"/><circle cx="381.6" cy="788.4" r="7.1"/><circle cx="393.3" cy="788.4" r="7.1"/><circle cx="440.2" cy="788.4" r="7.1"/><circle cx="413.8" cy="800.1" r="7.1"/><circle cx="443.1" cy="800.1" r="7.1"/><circle cx="454.8" cy="800.1" r="7.1"/><circle cx="358.2" cy="811.7" r="7.1"/><circle cx="381.6" cy="811.7" r="7.1"/><circle cx="405.0" cy="811.7" r="7.1"/><circle cx="463.6" cy="811.7" r="7.1"/><circle cx="460.7" cy="823.3" r="7.1"/><circle cx="340.6" cy="835.0" r="7.1"/><circle cx="358.2" cy="835.0" r="7.1"/><circle cx="364.0" cy="835.0" r="7.1"/><circle cx="440.2" cy="835.0" r="7.1"/><circle cx="457.8" cy="835.0" r="7.1"/><circle cx="284.9" cy="846.6" r="7.1"/><circle cx="325.9" cy="846.6" r="7.1"/><circle cx="355.2" cy="846.6" r="7.1"/><circle cx="396.2" cy="846.6" r="7.1"/><circle cx="454.8" cy="846.6" r="7.1"/><circle cx="305.4" cy="858.2" r="7.1"/><circle cx="346.4" cy="858.2" r="7.1"/><circle cx="393.3" cy="858.2" r="7.1"/><circle cx="405.0" cy="858.2" r="7.1"/><circle cx="440.2" cy="858.2" r="7.1"/><circle cx="413.8" cy="869.9" r="7.1"/><circle cx="410.9" cy="881.5" r="7.1"/><circle cx="446.1" cy="881.5" r="7.1"/><circle cx="308.3" cy="893.1" r="7.1"/><circle cx="361.1" cy="893.1" r="7.1"/><circle cx="472.4" cy="776.8" r="7.1"/><circle cx="478.3" cy="776.8" r="7.1"/><circle cx="507.6" cy="776.8" r="7.1"/><circle cx="519.3" cy="776.8" r="7.1"/><circle cx="525.2" cy="776.8" r="7.1"/><circle cx="495.9" cy="800.1" r="7.1"/><circle cx="507.6" cy="800.1" r="7.1"/><circle cx="531.0" cy="800.1" r="7.1"/><circle cx="478.3" cy="811.7" r="7.1"/><circle cx="484.1" cy="811.7" r="7.1"/><circle cx="490.0" cy="811.7" r="7.1"/><circle cx="478.3" cy="823.3" r="7.1"/><circle cx="490.0" cy="823.3" r="7.1"/><circle cx="501.7" cy="823.3" r="7.1"/><circle cx="510.5" cy="823.3" r="7.1"/><circle cx="472.4" cy="846.6" r="7.1"/><circle cx="490.0" cy="846.6" r="7.1"/><circle cx="501.7" cy="846.6" r="7.1"/><circle cx="542.8" cy="846.6" r="7.1"/><circle cx="534.0" cy="858.2" r="7.1"/><circle cx="478.3" cy="869.9" r="7.1"/><circle cx="507.6" cy="893.1" r="7.1"/><circle cx="390.4" cy="916.4" r="7.1"/><circle cx="422.6" cy="928.0" r="7.1"/><circle cx="355.2" cy="939.6" r="7.1"/><circle cx="425.6" cy="939.6" r="7.1"/><circle cx="437.3" cy="939.6" r="7.1"/><circle cx="422.6" cy="951.3" r="7.1"/></g>
<g fill="none" stroke="#6e6e6e" stroke-width="2.2"><circle cx="893.8" cy="661.0" r="7.1"/><circle cx="978.7" cy="649.4" r="7.1"/><circle cx="1005.1" cy="661.0" r="7.1"/><circle cx="996.3" cy="695.9" r="7.1"/><circle cx="1063.7" cy="707.6" r="7.1"/><circle cx="917.2" cy="730.9" r="7.1"/><circle cx="940.6" cy="730.9" r="7.1"/><circle cx="972.9" cy="742.5" r="7.1"/><circle cx="987.5" cy="754.2" r="7.1"/><circle cx="1031.5" cy="742.5" r="7.1"/><circle cx="838.1" cy="765.8" r="7.1"/><circle cx="1025.6" cy="765.8" r="7.1"/><circle cx="1131.1" cy="672.7" r="7.1"/><circle cx="1145.7" cy="684.3" r="7.1"/><circle cx="1072.5" cy="695.9" r="7.1"/><circle cx="1087.1" cy="707.6" r="7.1"/><circle cx="1148.7" cy="719.2" r="7.1"/><circle cx="1139.9" cy="730.9" r="7.1"/><circle cx="1113.5" cy="742.5" r="7.1"/><circle cx="1131.1" cy="742.5" r="7.1"/><circle cx="1136.9" cy="742.5" r="7.1"/><circle cx="1093.0" cy="754.2" r="7.1"/><circle cx="1104.7" cy="754.2" r="7.1"/><circle cx="1084.2" cy="765.8" r="7.1"/><circle cx="1107.6" cy="765.8" r="7.1"/><circle cx="1113.5" cy="765.8" r="7.1"/><circle cx="1148.7" cy="765.8" r="7.1"/><circle cx="1069.6" cy="777.5" r="7.1"/><circle cx="1087.1" cy="777.5" r="7.1"/><circle cx="1145.7" cy="777.5" r="7.1"/><circle cx="1175.0" cy="777.5" r="7.1"/><circle cx="987.5" cy="777.5" r="7.1"/><circle cx="996.3" cy="789.1" r="7.1"/><circle cx="1025.6" cy="789.1" r="7.1"/><circle cx="1031.5" cy="789.1" r="7.1"/><circle cx="1040.2" cy="800.8" r="7.1"/><circle cx="1069.6" cy="800.8" r="7.1"/><circle cx="972.9" cy="812.4" r="7.1"/><circle cx="990.4" cy="812.4" r="7.1"/><circle cx="1049.0" cy="812.4" r="7.1"/><circle cx="1078.3" cy="812.4" r="7.1"/><circle cx="987.5" cy="824.0" r="7.1"/><circle cx="1005.1" cy="824.0" r="7.1"/><circle cx="1034.4" cy="824.0" r="7.1"/><circle cx="1040.2" cy="824.0" r="7.1"/><circle cx="1049.0" cy="824.0" r="7.1"/><circle cx="1081.3" cy="824.0" r="7.1"/><circle cx="1093.0" cy="824.0" r="7.1"/><circle cx="1104.7" cy="824.0" r="7.1"/><circle cx="926.0" cy="835.7" r="7.1"/><circle cx="1002.2" cy="835.7" r="7.1"/><circle cx="1008.0" cy="835.7" r="7.1"/><circle cx="1031.5" cy="835.7" r="7.1"/><circle cx="1037.3" cy="835.7" r="7.1"/><circle cx="1066.6" cy="835.7" r="7.1"/><circle cx="1087.1" cy="835.7" r="7.1"/><circle cx="1095.9" cy="835.7" r="7.1"/><circle cx="975.8" cy="847.3" r="7.1"/><circle cx="1022.7" cy="847.3" r="7.1"/><circle cx="1046.1" cy="847.3" r="7.1"/><circle cx="999.2" cy="870.6" r="7.1"/><circle cx="1075.4" cy="870.6" r="7.1"/><circle cx="1087.1" cy="870.6" r="7.1"/><circle cx="1019.7" cy="882.3" r="7.1"/><circle cx="1104.7" cy="882.3" r="7.1"/><circle cx="1046.1" cy="893.9" r="7.1"/><circle cx="1081.3" cy="893.9" r="7.1"/><circle cx="1002.2" cy="905.6" r="7.1"/><circle cx="1072.5" cy="905.6" r="7.1"/><circle cx="1178.0" cy="789.1" r="7.1"/><circle cx="1119.4" cy="789.1" r="7.1"/><circle cx="1136.9" cy="789.1" r="7.1"/><circle cx="1128.2" cy="800.8" r="7.1"/><circle cx="1139.9" cy="800.8" r="7.1"/><circle cx="1166.2" cy="812.4" r="7.1"/><circle cx="1128.2" cy="824.0" r="7.1"/><circle cx="1139.9" cy="824.0" r="7.1"/><circle cx="1180.9" cy="824.0" r="7.1"/><circle cx="1125.2" cy="835.7" r="7.1"/><circle cx="1136.9" cy="835.7" r="7.1"/><circle cx="1183.8" cy="835.7" r="7.1"/><circle cx="1116.4" cy="847.3" r="7.1"/><circle cx="1139.9" cy="847.3" r="7.1"/><circle cx="1157.5" cy="847.3" r="7.1"/><circle cx="1142.8" cy="859.0" r="7.1"/><circle cx="1139.9" cy="870.6" r="7.1"/><circle cx="1151.6" cy="870.6" r="7.1"/><circle cx="1157.5" cy="870.6" r="7.1"/><circle cx="1160.4" cy="882.3" r="7.1"/><circle cx="1166.2" cy="882.3" r="7.1"/><circle cx="1145.7" cy="893.9" r="7.1"/><circle cx="1163.3" cy="893.9" r="7.1"/><circle cx="1131.1" cy="905.6" r="7.1"/><circle cx="1034.4" cy="917.2" r="7.1"/><circle cx="1093.0" cy="917.2" r="7.1"/><circle cx="1084.2" cy="928.9" r="7.1"/><circle cx="1090.1" cy="928.9" r="7.1"/><circle cx="1040.2" cy="940.5" r="7.1"/><circle cx="1013.9" cy="952.1" r="7.1"/><circle cx="1145.7" cy="987.1" r="7.1"/><circle cx="1098.8" cy="824.0" r="7.1"/></g>
<g fill="none" stroke="#6e6e6e" stroke-width="2.2"><circle cx="1634.3" cy="672.6" r="7.1"/><circle cx="1597.5" cy="684.2" r="7.1"/><circle cx="1671.1" cy="684.2" r="7.1"/><circle cx="1617.5" cy="707.5" r="7.1"/><circle cx="1580.7" cy="719.2" r="7.1"/><circle cx="1654.4" cy="719.2" r="7.1"/><circle cx="1654.4" cy="742.5" r="7.1"/><circle cx="1667.8" cy="742.5" r="7.1"/><circle cx="1597.5" cy="754.1" r="7.1"/><circle cx="1604.1" cy="754.1" r="7.1"/><circle cx="1654.4" cy="765.8" r="7.1"/><circle cx="1584.0" cy="777.4" r="7.1"/><circle cx="1590.8" cy="777.4" r="7.1"/><circle cx="1597.5" cy="777.4" r="7.1"/><circle cx="1651.0" cy="777.4" r="7.1"/><circle cx="1507.0" cy="789.1" r="7.1"/><circle cx="1567.3" cy="789.1" r="7.1"/><circle cx="1647.7" cy="789.1" r="7.1"/><circle cx="1584.0" cy="800.7" r="7.1"/><circle cx="1604.1" cy="800.7" r="7.1"/><circle cx="1624.2" cy="800.7" r="7.1"/><circle cx="1644.3" cy="800.7" r="7.1"/><circle cx="1748.2" cy="719.2" r="7.1"/><circle cx="1751.5" cy="730.8" r="7.1"/><circle cx="1768.3" cy="742.5" r="7.1"/><circle cx="1724.8" cy="754.1" r="7.1"/><circle cx="1701.3" cy="765.8" r="7.1"/><circle cx="1721.4" cy="765.8" r="7.1"/><circle cx="1741.5" cy="765.8" r="7.1"/><circle cx="1748.2" cy="765.8" r="7.1"/><circle cx="1698.0" cy="777.4" r="7.1"/><circle cx="1711.3" cy="777.4" r="7.1"/><circle cx="1744.8" cy="777.4" r="7.1"/><circle cx="1758.2" cy="777.4" r="7.1"/><circle cx="1805.1" cy="777.4" r="7.1"/><circle cx="1741.5" cy="789.1" r="7.1"/><circle cx="1748.2" cy="789.1" r="7.1"/><circle cx="1761.6" cy="789.1" r="7.1"/><circle cx="1781.7" cy="789.1" r="7.1"/><circle cx="1801.8" cy="789.1" r="7.1"/><circle cx="1684.5" cy="800.7" r="7.1"/><circle cx="1698.0" cy="800.7" r="7.1"/><circle cx="1744.8" cy="800.7" r="7.1"/><circle cx="1805.1" cy="800.7" r="7.1"/><circle cx="1811.8" cy="800.7" r="7.1"/><circle cx="1563.9" cy="824.0" r="7.1"/><circle cx="1604.1" cy="824.0" r="7.1"/><circle cx="1644.3" cy="824.0" r="7.1"/><circle cx="1657.8" cy="824.0" r="7.1"/><circle cx="1664.4" cy="824.0" r="7.1"/><circle cx="1677.8" cy="824.0" r="7.1"/><circle cx="1540.5" cy="835.6" r="7.1"/><circle cx="1661.1" cy="835.6" r="7.1"/><circle cx="1443.3" cy="847.3" r="7.1"/><circle cx="1537.2" cy="847.3" r="7.1"/><circle cx="1577.3" cy="847.3" r="7.1"/><circle cx="1590.8" cy="847.3" r="7.1"/><circle cx="1597.5" cy="847.3" r="7.1"/><circle cx="1617.5" cy="847.3" r="7.1"/><circle cx="1624.2" cy="847.3" r="7.1"/><circle cx="1644.3" cy="847.3" r="7.1"/><circle cx="1671.1" cy="847.3" r="7.1"/><circle cx="1661.1" cy="858.9" r="7.1"/><circle cx="1624.2" cy="870.6" r="7.1"/><circle cx="1657.8" cy="870.6" r="7.1"/><circle cx="1600.8" cy="882.2" r="7.1"/><circle cx="1661.1" cy="882.2" r="7.1"/><circle cx="1667.8" cy="882.2" r="7.1"/><circle cx="1617.5" cy="893.9" r="7.1"/><circle cx="1694.6" cy="812.4" r="7.1"/><circle cx="1748.2" cy="812.4" r="7.1"/><circle cx="1768.3" cy="812.4" r="7.1"/><circle cx="1711.3" cy="824.0" r="7.1"/><circle cx="1718.0" cy="824.0" r="7.1"/><circle cx="1724.8" cy="824.0" r="7.1"/><circle cx="1785.0" cy="824.0" r="7.1"/><circle cx="1798.4" cy="824.0" r="7.1"/><circle cx="1805.1" cy="824.0" r="7.1"/><circle cx="1694.6" cy="835.6" r="7.1"/><circle cx="1701.3" cy="835.6" r="7.1"/><circle cx="1714.7" cy="835.6" r="7.1"/><circle cx="1734.8" cy="835.6" r="7.1"/><circle cx="1748.2" cy="835.6" r="7.1"/><circle cx="1768.3" cy="835.6" r="7.1"/><circle cx="1775.0" cy="835.6" r="7.1"/><circle cx="1781.7" cy="835.6" r="7.1"/><circle cx="1788.4" cy="835.6" r="7.1"/><circle cx="1704.7" cy="847.3" r="7.1"/><circle cx="1724.8" cy="847.3" r="7.1"/><circle cx="1758.2" cy="847.3" r="7.1"/><circle cx="1701.3" cy="858.9" r="7.1"/><circle cx="1741.5" cy="858.9" r="7.1"/><circle cx="1754.9" cy="858.9" r="7.1"/><circle cx="1768.3" cy="858.9" r="7.1"/><circle cx="1781.7" cy="858.9" r="7.1"/><circle cx="1741.5" cy="882.2" r="7.1"/><circle cx="1748.2" cy="882.2" r="7.1"/><circle cx="1698.0" cy="893.9" r="7.1"/><circle cx="1671.1" cy="940.5" r="7.1"/></g>
<polyline points="165,430.3 313.4,300 482.1,147.6 553.7,80.2 596.9,39" fill="none" stroke="#22229a" stroke-width="2.2"/>
<polyline points="816.1,412.1 905.8,339.4 1090.3,190 1142.7,141.6 1168.3,119.5 1234.1,60.8" fill="none" stroke="#000" stroke-width="2.4" stroke-linejoin="round"/>
<polyline points="1443.5,407.5 1584.5,289.4 1766.4,140 1859.8,55.9" fill="none" stroke="#22229a" stroke-width="2.2"/>
<line x1="147.2" y1="685.9" x2="614.3" y2="685.9" stroke="#b05a5a" stroke-width="2" stroke-dasharray="5 4"/>
<line x1="147.2" y1="923.2" x2="614.3" y2="923.2" stroke="#b05a5a" stroke-width="2" stroke-dasharray="5 4"/>
<line x1="791.2" y1="684.3" x2="1258.0" y2="684.3" stroke="#b05a5a" stroke-width="2" stroke-dasharray="5 4"/>
<line x1="791.2" y1="946.6" x2="1258.0" y2="946.6" stroke="#b05a5a" stroke-width="2" stroke-dasharray="5 4"/>
<line x1="1433.3" y1="716.1" x2="1900.3" y2="716.1" stroke="#b05a5a" stroke-width="2" stroke-dasharray="5 4"/>
<line x1="1433.3" y1="907.8" x2="1900.3" y2="907.8" stroke="#b05a5a" stroke-width="2" stroke-dasharray="5 4"/>
<line x1="147.2" y1="804.4" x2="614.3" y2="804.4" stroke="#000" stroke-width="3.2"/>
<line x1="791.2" y1="814.5" x2="1258.0" y2="814.5" stroke="#000" stroke-width="3.2"/>
<line x1="1433.3" y1="810.9" x2="1900.3" y2="810.9" stroke="#000" stroke-width="3.2"/>
<g fill="#fff" stroke="#555" stroke-width="1.3"><circle cx="153.1" cy="577.7" r="3"/><circle cx="153.1" cy="615.6" r="3"/><circle cx="533.9" cy="577.7" r="3"/><circle cx="533.9" cy="615.6" r="3"/></g>
<text x="10.96" y="42.80" style="font-family:'Liberation Sans', Arial, sans-serif;font-weight:bold;font-size:40.71px" fill="#000" textLength="29.87" lengthAdjust="spacingAndGlyphs">A</text>
<text x="663.30" y="42.00" style="font-family:'Liberation Sans', Arial, sans-serif;font-weight:bold;font-size:42.75px" fill="#000" textLength="29.95" lengthAdjust="spacingAndGlyphs">B</text>
<text x="1315.74" y="42.80" style="font-family:'Liberation Sans', Arial, sans-serif;font-weight:bold;font-size:44.57px" fill="#000" textLength="30.00" lengthAdjust="spacingAndGlyphs">C</text>
<text x="9.90" y="589.90" style="font-family:'Liberation Sans', Arial, sans-serif;font-weight:bold;font-size:42.75px" fill="#000" textLength="30.90" lengthAdjust="spacingAndGlyphs">D</text>
<text x="664.09" y="589.90" style="font-family:'Liberation Sans', Arial, sans-serif;font-weight:bold;font-size:42.75px" fill="#000" textLength="27.75" lengthAdjust="spacingAndGlyphs">E</text>
<text x="1318.63" y="589.90" style="font-family:'Liberation Sans', Arial, sans-serif;font-weight:bold;font-size:42.75px" fill="#000" textLength="25.90" lengthAdjust="spacingAndGlyphs">F</text>
<text x="135.72" y="49.00" style="font-family:'Liberation Sans', Arial, sans-serif;font-weight:normal;font-size:27.86px" fill="#000" stroke="#000" stroke-width="0.55" textLength="211.71" lengthAdjust="spacingAndGlyphs">r=0.902;p&lt;0.0001</text>
<text x="788.83" y="49.00" style="font-family:'Liberation Sans', Arial, sans-serif;font-weight:normal;font-size:27.86px" fill="#000" stroke="#000" stroke-width="0.55" textLength="211.10" lengthAdjust="spacingAndGlyphs">r=0.890;p&lt;0.0001</text>
<text x="1432.40" y="49.00" style="font-family:'Liberation Sans', Arial, sans-serif;font-weight:normal;font-size:27.86px" fill="#000" stroke="#000" stroke-width="0.55" textLength="213.84" lengthAdjust="spacingAndGlyphs">r=0.933 p&lt;0.0001</text>
<text x="298.33" y="535.70" style="font-family:'Liberation Sans', Arial, sans-serif;font-weight:normal;font-size:28.36px" fill="#000" stroke="#000" stroke-width="0.55" textLength="148.51" lengthAdjust="spacingAndGlyphs">Finet model</text>
<text x="927.69" y="535.50" style="font-family:'Liberation Sans', Arial, sans-serif;font-weight:normal;font-size:28.08px" fill="#000" stroke="#000" stroke-width="0.55" textLength="176.32" lengthAdjust="spacingAndGlyphs">Murray model</text>
<text x="1598.85" y="535.70" style="font-family:'Liberation Sans', Arial, sans-serif;font-weight:normal;font-size:28.36px" fill="#000" stroke="#000" stroke-width="0.55" textLength="123.43" lengthAdjust="spacingAndGlyphs">HK model</text>
<text x="193.58" y="1136.20" style="font-family:'Liberation Sans', Arial, sans-serif;font-weight:normal;font-size:27.67px" fill="#000" stroke="#000" stroke-width="0.55" textLength="385.77" lengthAdjust="spacingAndGlyphs">Mean of FFR and Finet model</text>
<text x="822.54" y="1136.20" style="font-family:'Liberation Sans', Arial, sans-serif;font-weight:normal;font-size:27.67px" fill="#000" stroke="#000" stroke-width="0.55" textLength="417.58" lengthAdjust="spacingAndGlyphs">Mean of FFR and Murray model</text>
<text x="1492.17" y="1136.20" style="font-family:'Liberation Sans', Arial, sans-serif;font-weight:normal;font-size:27.67px" fill="#000" stroke="#000" stroke-width="0.55" textLength="362.16" lengthAdjust="spacingAndGlyphs">Mean of FFR and HK model</text>
<text transform="translate(35.90 250.40) rotate(-90)" style="font-family:'Liberation Sans', Arial, sans-serif;font-weight:normal;font-size:28.00px" fill="#000" stroke="#000" stroke-width="0.55" textLength="43.82" lengthAdjust="spacingAndGlyphs">FFR</text>
<text transform="translate(679.40 250.20) rotate(-90)" style="font-family:'Liberation Sans', Arial, sans-serif;font-weight:normal;font-size:28.43px" fill="#000" stroke="#000" stroke-width="0.55" textLength="43.71" lengthAdjust="spacingAndGlyphs">FFR</text>
<text transform="translate(1323.90 250.20) rotate(-90)" style="font-family:'Liberation Sans', Arial, sans-serif;font-weight:normal;font-size:28.43px" fill="#000" stroke="#000" stroke-width="0.55" textLength="43.71" lengthAdjust="spacingAndGlyphs">FFR</text>
<text transform="translate(35.10 920.68) rotate(-90)" style="font-family:'Liberation Sans', Arial, sans-serif;font-weight:normal;font-size:28.49px" fill="#000" stroke="#000" stroke-width="0.55" textLength="230.10" lengthAdjust="spacingAndGlyphs">FFR - Finet model</text>
<text transform="translate(680.30 937.64) rotate(-90)" style="font-family:'Liberation Sans', Arial, sans-serif;font-weight:normal;font-size:28.49px" fill="#000" stroke="#000" stroke-width="0.55" textLength="261.35" lengthAdjust="spacingAndGlyphs">FFR - Murray model</text>
<text transform="translate(1322.50 909.06) rotate(-90)" style="font-family:'Liberation Sans', Arial, sans-serif;font-weight:normal;font-size:28.49px" fill="#000" stroke="#000" stroke-width="0.55" textLength="204.05" lengthAdjust="spacingAndGlyphs">FFR - HK model</text>
<text x="491.58" y="673.90" style="font-family:'Liberation Sans', Arial, sans-serif;font-weight:normal;font-size:27.86px" fill="#000" stroke="#000" stroke-width="0.55" textLength="118.96" lengthAdjust="spacingAndGlyphs">+1.96 SD</text>
<text x="555.46" y="718.70" style="font-family:'Liberation Sans', Arial, sans-serif;font-weight:normal;font-size:28.71px" fill="#000" stroke="#000" stroke-width="0.55" textLength="53.33" lengthAdjust="spacingAndGlyphs">0.11</text>
<text x="536.38" y="792.20" style="font-family:'Liberation Sans', Arial, sans-serif;font-weight:normal;font-size:27.25px" fill="#000" stroke="#000" stroke-width="0.55" textLength="75.79" lengthAdjust="spacingAndGlyphs">Mean</text>
<text x="555.30" y="839.60" style="font-family:'Liberation Sans', Arial, sans-serif;font-weight:normal;font-size:27.86px" fill="#000" stroke="#000" stroke-width="0.55" textLength="53.68" lengthAdjust="spacingAndGlyphs">0.01</text>
<text x="498.37" y="911.20" style="font-family:'Liberation Sans', Arial, sans-serif;font-weight:normal;font-size:28.57px" fill="#000" stroke="#000" stroke-width="0.55" textLength="111.75" lengthAdjust="spacingAndGlyphs">-1.96 SD</text>
<text x="544.94" y="955.60" style="font-family:'Liberation Sans', Arial, sans-serif;font-weight:normal;font-size:28.43px" fill="#000" stroke="#000" stroke-width="0.55" textLength="66.31" lengthAdjust="spacingAndGlyphs">-0.10</text>
<text x="1135.68" y="672.20" style="font-family:'Liberation Sans', Arial, sans-serif;font-weight:normal;font-size:27.86px" fill="#000" stroke="#000" stroke-width="0.55" textLength="119.06" lengthAdjust="spacingAndGlyphs">+1.96 SD</text>
<text x="1199.68" y="716.40" style="font-family:'Liberation Sans', Arial, sans-serif;font-weight:normal;font-size:27.86px" fill="#000" stroke="#000" stroke-width="0.55" textLength="52.59" lengthAdjust="spacingAndGlyphs">0.11</text>
<text x="1180.20" y="802.20" style="font-family:'Liberation Sans', Arial, sans-serif;font-weight:normal;font-size:27.25px" fill="#000" stroke="#000" stroke-width="0.55" textLength="75.05" lengthAdjust="spacingAndGlyphs">Mean</text>
<text x="1188.53" y="849.60" style="font-family:'Liberation Sans', Arial, sans-serif;font-weight:normal;font-size:27.86px" fill="#000" stroke="#000" stroke-width="0.55" textLength="66.62" lengthAdjust="spacingAndGlyphs">-0.00</text>
<text x="1142.56" y="934.10" style="font-family:'Liberation Sans', Arial, sans-serif;font-weight:normal;font-size:28.00px" fill="#000" stroke="#000" stroke-width="0.55" textLength="112.16" lengthAdjust="spacingAndGlyphs">-1.96 SD</text>
<text x="1188.65" y="979.00" style="font-family:'Liberation Sans', Arial, sans-serif;font-weight:normal;font-size:28.57px" fill="#000" stroke="#000" stroke-width="0.55" textLength="63.14" lengthAdjust="spacingAndGlyphs">-0.11</text>
<text x="1777.28" y="703.70" style="font-family:'Liberation Sans', Arial, sans-serif;font-weight:normal;font-size:28.57px" fill="#000" stroke="#000" stroke-width="0.55" textLength="119.57" lengthAdjust="spacingAndGlyphs">+1.96 SD</text>
<text x="1841.14" y="748.10" style="font-family:'Liberation Sans', Arial, sans-serif;font-weight:normal;font-size:28.43px" fill="#000" stroke="#000" stroke-width="0.55" textLength="56.51" lengthAdjust="spacingAndGlyphs">0.08</text>
<text x="1822.49" y="798.70" style="font-family:'Liberation Sans', Arial, sans-serif;font-weight:normal;font-size:28.99px" fill="#000" stroke="#000" stroke-width="0.55" textLength="75.26" lengthAdjust="spacingAndGlyphs">Mean</text>
<text x="1841.15" y="846.00" style="font-family:'Liberation Sans', Arial, sans-serif;font-weight:normal;font-size:28.43px" fill="#000" stroke="#000" stroke-width="0.55" textLength="55.79" lengthAdjust="spacingAndGlyphs">0.00</text>
<text x="1785.07" y="895.70" style="font-family:'Liberation Sans', Arial, sans-serif;font-weight:normal;font-size:28.43px" fill="#000" stroke="#000" stroke-width="0.55" textLength="111.75" lengthAdjust="spacingAndGlyphs">-1.96 SD</text>
<text x="1830.32" y="940.20" style="font-family:'Liberation Sans', Arial, sans-serif;font-weight:normal;font-size:28.43px" fill="#000" stroke="#000" stroke-width="0.55" textLength="67.14" lengthAdjust="spacingAndGlyphs">-0.08</text>
<text transform="scale(0.88 1)" x="190.00 205.45 220.91 236.36 251.82 267.27 282.73 298.18 313.64 329.09 344.55 360.00 375.45 390.91 406.36 421.82 437.27 452.73 468.18 479.09 499.09 514.55 537.73 560.91 571.82 591.82" y="605.60" text-anchor="middle" style="font-family:'Liberation Serif','Noto Serif CJK SC',serif;font-size:27.5px" fill="#2e2e2e" stroke="#2e2e2e" stroke-width="0.25">mean difference = 0.01±0.1</text>
<text transform="scale(0.88 1)" x="917.47 933.10 948.72 964.35 979.97 995.60 1011.22 1026.85 1042.47 1058.10 1073.72 1089.35 1104.97 1120.60 1136.22 1151.85 1167.47 1183.10 1198.72 1209.80 1229.97 1245.60 1269.03 1292.47 1303.55 1323.72 1339.35" y="605.60" text-anchor="middle" style="font-family:'Liberation Serif','Noto Serif CJK SC',serif;font-size:27.5px" fill="#2e2e2e" stroke="#2e2e2e" stroke-width="0.25">mean defference = 0.00±0.11</text>
<text transform="scale(0.88 1)" x="1648.62 1664.27 1679.91 1695.56 1711.21 1726.86 1742.51 1758.15 1773.80 1789.45 1805.10 1820.74 1836.39 1852.04 1867.69 1883.34 1905.11 1914.63 1937.50 1950.00 1968.75 1984.09 2008.64 2032.95 2044.89 2055.68 2069.89" y="605.60" text-anchor="middle" style="font-family:'Liberation Serif','Noto Serif CJK SC',serif;font-size:27.5px" fill="#2e2e2e" stroke="#2e2e2e" stroke-width="0.25">mean difference = 0.00±0.08</text>
</svg>
</body></html>
